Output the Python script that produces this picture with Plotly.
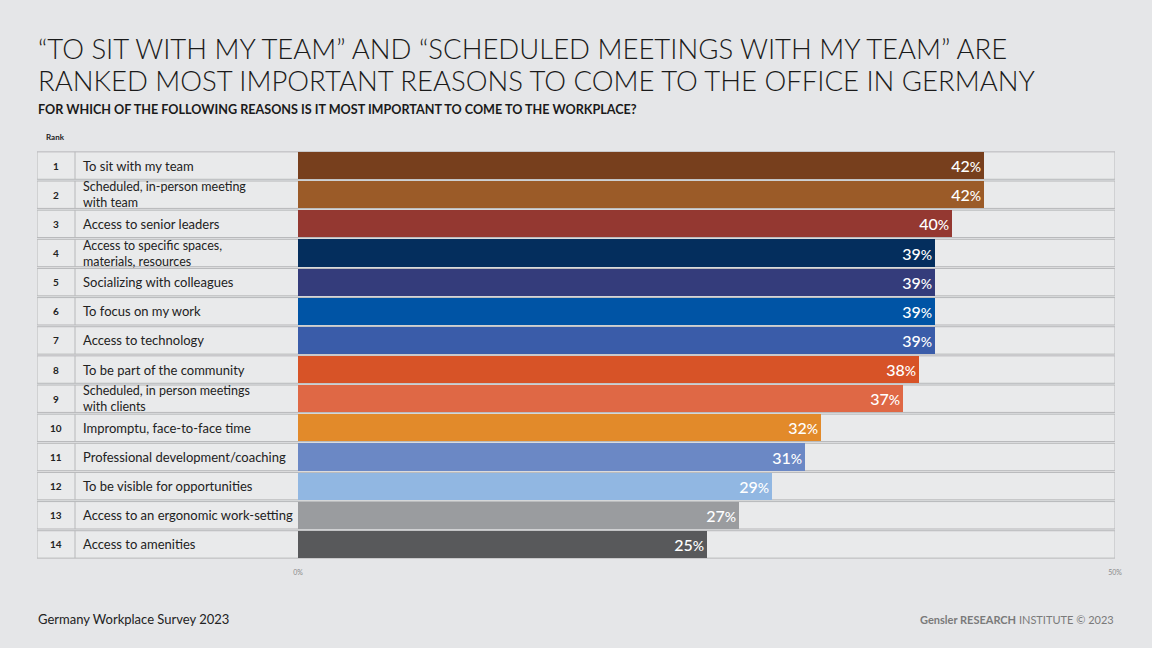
import plotly.graph_objects as go

ranks = list(range(1, 15))
reasons = [
    "To sit with my team",
    "Scheduled, in-person meeting<br>with team",
    "Access to senior leaders",
    "Access to specific spaces,<br>materials, resources",
    "Socializing with colleagues",
    "To focus on my work",
    "Access to technology",
    "To be part of the community",
    "Scheduled, in person meetings<br>with clients",
    "Impromptu, face-to-face time",
    "Professional development/coaching",
    "To be visible for opportunities",
    "Access to an ergonomic work-setting",
    "Access to amenities",
]
values = [42, 42, 40, 39, 39, 39, 39, 38, 37, 32, 31, 29, 27, 25]
colors = ["#773f1d", "#9b5b28", "#943831", "#042e5d", "#343c7b", "#0054a5",
          "#3a5ca9", "#d75327", "#df6845", "#e28a2a", "#6b88c5", "#91b7e2",
          "#9a9c9f", "#58595b"]
tick_vals = [0, 50]
tick_text = ["0%", "50%"]

BG = "#e5e6e8"
CELL = "#e9eaeb"
BORDER = "#b7b8ba"
FONT = "Lato, Open Sans, sans-serif"

# pixel geometry
L, R, T, B = 37, 1115, 151, 559
bar0 = 298
scale = (R - bar0) / 50.0
xmin = (L - bar0) / scale
x_rank_sep = (75 - bar0) / scale
x_rank_mid = (56 - bar0) / scale
x_label = (81 - bar0) / scale

fig = go.Figure()
fig.add_trace(go.Bar(
    x=values, y=ranks, orientation="h",
    marker=dict(color=colors, line=dict(width=0)),
    width=0.93,
    text=[f"{v}<span style='font-size:14px'>%</span>" for v in values],
    textposition="inside", insidetextanchor="end",
    textfont=dict(color="white", size=16, family=FONT, weight=500),
    constraintext="none",
    hoverinfo="skip",
))

shapes = []
annotations = []
for r, lab in zip(ranks, reasons):
    shapes.append(dict(type="rect", xref="x", yref="y", x0=xmin, x1=50,
                       y0=r - 0.47, y1=r + 0.47, fillcolor=CELL,
                       line=dict(color=BORDER, width=1), layer="below"))
    shapes.append(dict(type="line", xref="x", yref="y", x0=x_rank_sep, x1=x_rank_sep,
                       y0=r - 0.47, y1=r + 0.47, line=dict(color=BORDER, width=1),
                       layer="below"))
    annotations.append(dict(x=x_rank_mid, y=r, xref="x", yref="y", text=f"<b>{r}</b>",
                            showarrow=False, font=dict(size=10, color="#222", family=FONT),
                            xanchor="center", yanchor="middle"))
    multi = "<br>" in lab
    annotations.append(dict(x=x_label, y=r, xref="x", yref="y", text=lab,
                            showarrow=False, align="left",
                            font=dict(size=12.5 if multi else 13, color="#222", family=FONT),
                            xanchor="left", yanchor="middle"))

def px(xp):
    return (xp - L) / (R - L)

def py(yp):
    return (B - yp) / (B - T)

annotations += [
    dict(x=px(36), y=py(48), xref="paper", yref="paper", xanchor="left", yanchor="middle",
         showarrow=False, text="“TO SIT WITH MY TEAM” AND “SCHEDULED MEETINGS WITH MY TEAM” ARE",
         font=dict(size=27.5, color="#1a1a1a", family="Lato", weight=300)),
    dict(x=px(36), y=py(81), xref="paper", yref="paper", xanchor="left", yanchor="middle",
         showarrow=False, text="RANKED MOST IMPORTANT REASONS TO COME TO THE OFFICE IN GERMANY",
         font=dict(size=27.5, color="#1a1a1a", family="Lato", weight=300)),
    dict(x=px(36), y=py(110), xref="paper", yref="paper", xanchor="left", yanchor="middle",
         showarrow=False, text="<b>FOR WHICH OF THE FOLLOWING REASONS IS IT MOST IMPORTANT TO COME TO THE WORKPLACE?</b>",
         font=dict(size=12.6, color="#1a1a1a", family=FONT)),
    dict(x=px(44), y=py(137), xref="paper", yref="paper", xanchor="left", yanchor="middle",
         showarrow=False, text="<b>Rank</b>",
         font=dict(size=8, color="#222", family=FONT)),
    dict(x=px(36), y=py(619), xref="paper", yref="paper", xanchor="left", yanchor="middle",
         showarrow=False, text="Germany Workplace Survey 2023",
         font=dict(size=13, color="#222", family=FONT)),
    dict(x=px(1116), y=py(619), xref="paper", yref="paper", xanchor="right", yanchor="middle",
         showarrow=False, text="<b>Gensler RESEARCH</b> INSTITUTE © 2023",
         font=dict(size=11, color="#7a7a7a", family=FONT)),
]

fig.update_layout(
    width=1152, height=648,
    margin=dict(l=L, r=1152 - R, t=T, b=648 - B),
    paper_bgcolor=BG, plot_bgcolor=BG,
    showlegend=False,
    bargap=0,
    shapes=shapes, annotations=annotations,
    xaxis=dict(range=[xmin, 50], showgrid=False, zeroline=False, showline=False,
               tickvals=tick_vals, ticktext=tick_text, ticks="",
               tickfont=dict(size=7, color="#8a8a8a", family=FONT),
               ticklabelstandoff=8, fixedrange=True),
    yaxis=dict(range=[14.5, 0.5], showgrid=False, zeroline=False, showline=False,
               showticklabels=False, ticks="", fixedrange=True),
)

fig.write_html(
    "out.html",
    config={"displayModeBar": False},
    post_script="document.body.style.margin='0';document.body.style.background='%s';" % BG,
)
